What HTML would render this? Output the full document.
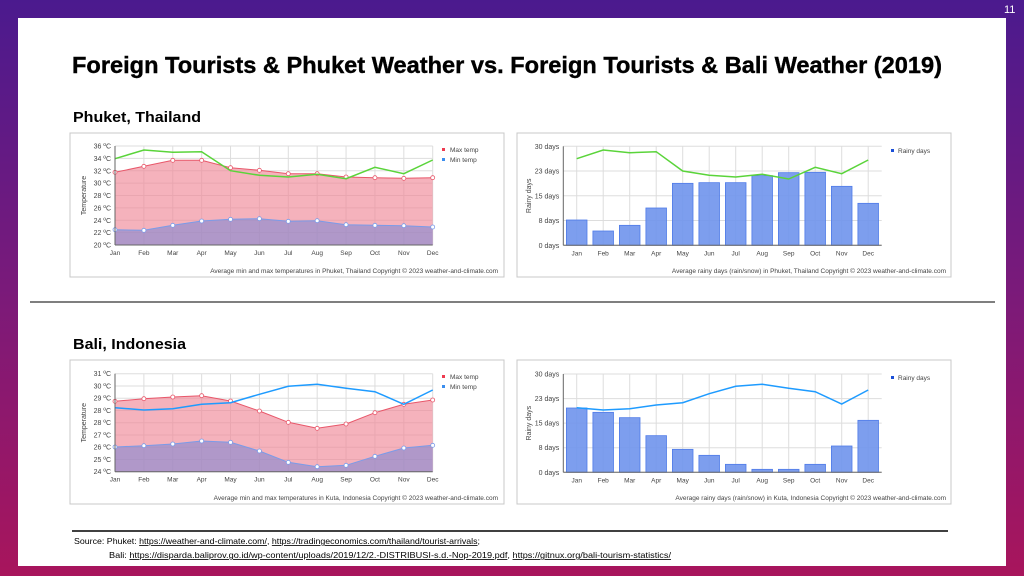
<!DOCTYPE html>
<html><head><meta charset="utf-8">
<style>
html,body{margin:0;padding:0;}
body{width:1024px;height:576px;overflow:hidden;background:linear-gradient(180deg,#4b1a8e 0%,#7a1a7a 50%,#a8155c 100%);position:relative;font-family:"Liberation Sans",sans-serif;}
#slide{position:absolute;left:18px;top:18px;width:988px;height:548px;background:#fff;}
#pg{position:absolute;left:1004px;top:4px;font-size:11px;color:#fff;}
svg text{font-family:"Liberation Sans",sans-serif;}
</style></head>
<body>
<div id="slide"></div>
<div id="pg">11</div>
<svg id="s" width="1024" height="576" style="position:absolute;left:0;top:0">
<text x="72" y="73" font-size="23.5" font-weight="bold" fill="#000" stroke="#000" stroke-width="0.4" textLength="870" lengthAdjust="spacingAndGlyphs">Foreign Tourists &amp; Phuket Weather vs. Foreign Tourists &amp; Bali Weather (2019)</text>
<text x="73" y="122" font-size="15" font-weight="bold" fill="#000" textLength="128" lengthAdjust="spacingAndGlyphs">Phuket, Thailand</text>
<text x="73" y="349" font-size="15" font-weight="bold" fill="#000" textLength="113" lengthAdjust="spacingAndGlyphs">Bali, Indonesia</text>
<line x1="30" y1="302" x2="995" y2="302" stroke="#333" stroke-width="1.3"/>
<line x1="72" y1="531" x2="948" y2="531" stroke="#000" stroke-width="1.5"/>
<text x="74" y="544" font-size="8.3" fill="#000" textLength="406" lengthAdjust="spacingAndGlyphs">Source:  Phuket: <tspan text-decoration="underline">https://weather-and-climate.com/</tspan>, <tspan text-decoration="underline">https://tradingeconomics.com/thailand/tourist-arrivals</tspan>;</text>
<text x="109" y="558" font-size="8.3" fill="#000" textLength="562" lengthAdjust="spacingAndGlyphs">Bali: <tspan text-decoration="underline">https://disparda.baliprov.go.id/wp-content/uploads/2019/12/2.-DISTRIBUSI-s.d.-Nop-2019.pdf</tspan>, <tspan text-decoration="underline">https://gitnux.org/bali-tourism-statistics/</tspan></text>
<g id="charts"></g>
</svg>
<script>
var M=['Jan','Feb','Mar','Apr','May','Jun','Jul','Aug','Sep','Oct','Nov','Dec'];
var out='';
function pts(xs,ys){return xs.map(function(x,i){return x.toFixed(1)+','+ys[i].toFixed(1)}).join(' ');}
function box(x,y,w,h){out+='<rect x="'+x+'" y="'+y+'" width="'+w+'" height="'+h+'" fill="#fff" stroke="#c8c8c8" stroke-width="1"/>';}
function tempChart(bx,by,top,bot,labels,maxZ,minZ,lineZ,lineCol,cap,zy0){
 box(bx,by,434,144);
 var x0=115,x1=432.7,st=(x1-x0)/11,xs=[];for(var i=0;i<12;i++)xs.push(x0+i*st);
 var n=labels.length-1;
 for(i=0;i<=n;i++){var y=top+(bot-top)*i/n;out+='<line x1="'+x0+'" y1="'+y+'" x2="'+x1+'" y2="'+y+'" stroke="#ddd"/>';out+='<text x="'+(x0-4)+'" y="'+(y+2.5)+'" font-size="7" fill="#444" text-anchor="end">'+labels[i]+'</text>';}
 for(i=0;i<12;i++){out+='<line x1="'+xs[i]+'" y1="'+top+'" x2="'+xs[i]+'" y2="'+bot+'" stroke="#ddd"/>';out+='<text x="'+xs[i]+'" y="'+(bot+10)+'" font-size="6.5" fill="#444" text-anchor="middle">'+M[i]+'</text>';}
 var my=maxZ.map(function(z){return zy0+z/3}),ny=minZ.map(function(z){return zy0+z/3}),ly=lineZ.map(function(z){return zy0+z/3});
 out+='<polygon points="'+x0+','+bot+' '+pts(xs,my)+' '+x1+','+bot+'" fill="#f08898" fill-opacity="0.65"/>';
 out+='<polygon points="'+x0+','+bot+' '+pts(xs,ny)+' '+x1+','+bot+'" fill="#8a8ad0" fill-opacity="0.65"/>';
 out+='<polyline points="'+pts(xs,my)+'" fill="none" stroke="#e8576a" stroke-width="1"/>';
 out+='<polyline points="'+pts(xs,ny)+'" fill="none" stroke="#7b9be8" stroke-width="1"/>';
 for(i=0;i<12;i++){out+='<circle cx="'+xs[i]+'" cy="'+my[i]+'" r="2" fill="#fff" stroke="#e8576a" stroke-width="0.8"/><circle cx="'+xs[i]+'" cy="'+ny[i]+'" r="2" fill="#fff" stroke="#7b9be8" stroke-width="0.8"/>';}
 out+='<polyline points="'+pts(xs,ly)+'" fill="none" stroke="'+lineCol+'" stroke-width="1.5"/>';
 out+='<line x1="'+x0+'" y1="'+top+'" x2="'+x0+'" y2="'+bot+'" stroke="#666"/><line x1="'+x0+'" y1="'+bot+'" x2="'+x1+'" y2="'+bot+'" stroke="#666"/>';
 out+='<text transform="translate('+(bx+16)+','+((top+bot)/2)+') rotate(-90)" font-size="7" fill="#444" text-anchor="middle">Temperature</text>';
 out+='<rect x="442" y="'+(by+15)+'" width="3" height="3" fill="#ee3b50"/><text x="450" y="'+(by+19)+'" font-size="6.5" fill="#444">Max temp</text>';
 out+='<rect x="442" y="'+(by+25)+'" width="3" height="3" fill="#3b8eee"/><text x="450" y="'+(by+29)+'" font-size="6.5" fill="#444">Min temp</text>';
 out+='<text x="498" y="'+(by+140)+'" font-size="6.5" fill="#444" text-anchor="end">'+cap+'   Copyright © 2023  weather-and-climate.com</text>';
}
function rainChart(bx,by,top,bot,barZ,lineZ,lineCol,cap,zy0){
 box(bx,by,434,144);
 var ax0=563.3,ax1=881.7,c0=576.7,st=26.5,xs=[];for(var i=0;i<12;i++)xs.push(c0+i*st);
 var labs=['30 days','23 days','15 days','8 days','0 days'];
 for(i=0;i<5;i++){var y=top+(bot-top)*i/4;out+='<line x1="'+ax0+'" y1="'+y+'" x2="'+ax1+'" y2="'+y+'" stroke="#ddd"/>';out+='<text x="'+(ax0-4)+'" y="'+(y+2.5)+'" font-size="7" fill="#444" text-anchor="end">'+labs[i]+'</text>';}
 for(i=0;i<12;i++){out+='<line x1="'+xs[i]+'" y1="'+top+'" x2="'+xs[i]+'" y2="'+bot+'" stroke="#ddd"/>';out+='<text x="'+xs[i]+'" y="'+(bot+10)+'" font-size="6.5" fill="#444" text-anchor="middle">'+M[i]+'</text>';}
 for(i=0;i<12;i++){var ty=zy0+barZ[i]/3;out+='<rect x="'+(xs[i]-10.3)+'" y="'+ty+'" width="20.6" height="'+(bot-ty)+'" fill="#6f94ec" fill-opacity="0.9" stroke="#4f7be8" stroke-width="0.8"/>';}
 var ly=lineZ.map(function(z){return zy0+z/3});
 out+='<polyline points="'+pts(xs,ly)+'" fill="none" stroke="'+lineCol+'" stroke-width="1.5"/>';
 out+='<line x1="'+ax0+'" y1="'+top+'" x2="'+ax0+'" y2="'+bot+'" stroke="#666"/><line x1="'+ax0+'" y1="'+bot+'" x2="'+ax1+'" y2="'+bot+'" stroke="#666"/>';
 out+='<text transform="translate('+(bx+14)+','+((top+bot)/2)+') rotate(-90)" font-size="7" fill="#444" text-anchor="middle">Rainy days</text>';
 out+='<rect x="891" y="'+(by+16)+'" width="3" height="3" fill="#1a4fd8"/><text x="898" y="'+(by+20)+'" font-size="6.5" fill="#444">Rainy days</text>';
 out+='<text x="946" y="'+(by+140)+'" font-size="6.5" fill="#444" text-anchor="end">'+cap+'   Copyright © 2023  weather-and-climate.com</text>';
}
tempChart(70,133,146,245,['36 ºC','34 ºC','32 ºC','30 ºC','28 ºC','26 ºC','24 ºC','22 ºC','20 ºC'],
 [127,109,91,91,113,121,131,131,141,143,145,143],
 [299,301,286,273,268,266,274,272,284,286,287,291],
 [86,60,67,65,122,136,141,133,146,112,131,90],'#5ad43a','Average min and max temperatures in Phuket, Thailand',130);
rainChart(517,133,146.3,245.3,[270,303,286,234,160,158,158,137,128,127,169,220],[86,60,68,65,123,136,141,133,147,112,131,90],'#5ad43a','Average rainy days (rain/snow) in Phuket, Thailand',130);
tempChart(70,360,373.7,471.7,['31 ºC','30 ºC','29 ºC','28 ºC','28 ºC','27 ºC','26 ºC','25 ºC','24 ºC'],
 [124,116,111,107,123,153,187,205,192,158,133,120],
 [261,257,252,243,247,273,307,320,316,289,264,256],
 [143,150,146,133,128,103,79,73,85,95,133,90],'#1e9bff','Average min and max temperatures in Kuta, Indonesia',360);
rainChart(517,360,374,472.3,[144,157,173,227,268,286,313,328,328,313,258,181],[143,150,146,135,128,101,79,73,85,95,132,90],'#1e9bff','Average rainy days (rain/snow) in Kuta, Indonesia',360);
document.getElementById('charts').innerHTML=out;
</script>
</body></html>
